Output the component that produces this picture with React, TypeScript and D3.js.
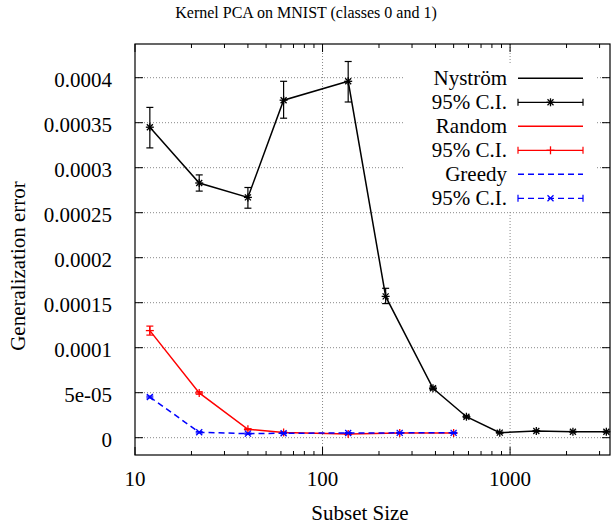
import React from "react";
import * as d3 from "d3";

const title = "Kernel PCA on MNIST (classes 0 and 1)";
const xLabel = "Subset Size";
const yLabel = "Generalization error";

const nystromX = [12, 22, 40, 62, 137, 217, 388, 585, 881, 1380, 2163, 3260];
const nystromY = [0.000345, 0.000283, 0.000267, 0.000375, 0.000396, 0.000157, 0.0000549, 0.0000233, 0.0000056, 0.0000074, 0.0000067, 0.0000067];
const nystromLo = [0.000322, 0.000274, 0.000255, 0.000355, 0.000373, 0.000149, 0.0000535, 0.0000222, 0.000005, 0.0000068, 0.0000062, 0.0000062];
const nystromHi = [0.000367, 0.000292, 0.000278, 0.000396, 0.000418, 0.000166, 0.0000563, 0.0000244, 0.0000062, 0.000008, 0.0000072, 0.0000072];

const randomX = [12, 22, 40, 62, 137, 258, 500];
const randomY = [0.000119, 0.0000497, 0.0000093, 0.0000058, 0.000004, 0.0000052, 0.0000052];
const randomLo = [0.000114, 0.0000483, 0.0000086, 0.0000053, 0.0000035, 0.0000047, 0.0000047];
const randomHi = [0.000124, 0.0000511, 0.00001, 0.0000063, 0.0000045, 0.0000057, 0.0000057];

const greedyX = [12, 22, 40, 62, 137, 258, 500];
const greedyY = [0.0000452, 0.000006, 0.0000045, 0.000005, 0.0000052, 0.0000054, 0.0000054];
const greedyLo = [0.0000442, 0.0000053, 0.0000039, 0.0000045, 0.0000047, 0.0000049, 0.0000049];
const greedyHi = [0.0000462, 0.0000067, 0.0000051, 0.0000055, 0.0000057, 0.0000059, 0.0000059];

const yTickValues = [0, 0.00005, 0.0001, 0.00015, 0.0002, 0.00025, 0.0003, 0.00035, 0.0004];
const yTickLabels = ["0", "5e-05", "0.0001", "0.00015", "0.0002", "0.00025", "0.0003", "0.00035", "0.0004"];
const xTickValues = [10, 100, 1000];
const xTickLabels = ["10", "100", "1000"];
const xMinorTicks = [20, 30, 40, 50, 60, 70, 80, 90, 200, 300, 400, 500, 600, 700, 800, 900, 2000, 3000];

const legendLabels = ["Nyström", "95% C.I.", "Random", "95% C.I.", "Greedy", "95% C.I."];

const FONT = "'Liberation Serif'";
const L = 135, R = 610, T = 44, B = 455;

const x = d3.scaleLog().domain([10, Math.pow(10, 3 + (R - 510) / 187.7)]).range([L, R]);
const yPerUnit = (437.7 - 77.7) / 0.0004;
const y = d3.scaleLinear().domain([-(B - 437.7) / yPerUnit, (437.7 - T) / yPerUnit]).range([B, T]);

type Series = { xs: number[]; ys: number[]; lo: number[]; hi: number[]; color: string; dash?: string; marker: string };

const series: Series[] = [
  { xs: nystromX, ys: nystromY, lo: nystromLo, hi: nystromHi, color: "#000000", marker: "star" },
  { xs: randomX, ys: randomY, lo: randomLo, hi: randomHi, color: "#ff0000", marker: "plus" },
  { xs: greedyX, ys: greedyY, lo: greedyLo, hi: greedyHi, color: "#0000ff", dash: "6,4", marker: "cross" },
];

function Marker({ cx, cy, kind, color }: { cx: number; cy: number; kind: string; color: string }) {
  const s = 4;
  const c = 3;
  const parts: any[] = [];
  if (kind === "plus" || kind === "star") {
    parts.push(<line key="h" x1={cx - s} x2={cx + s} y1={cy} y2={cy} />);
    parts.push(<line key="v" x1={cx} x2={cx} y1={cy - s} y2={cy + s} />);
  }
  if (kind === "cross" || kind === "star") {
    parts.push(<line key="a" x1={cx - c} x2={cx + c} y1={cy - c} y2={cy + c} />);
    parts.push(<line key="b" x1={cx - c} x2={cx + c} y1={cy + c} y2={cy - c} />);
  }
  return <g stroke={color} strokeWidth={1.3} fill="none">{parts}</g>;
}

export default function App() {
  const lineGen = d3.line<[number, number]>().x((d) => x(d[0])).y((d) => y(d[1]));
  const gridStyle = { stroke: "#888", strokeWidth: 1, strokeDasharray: "1,2" };

  const legendTextX = 507;
  const sampleX1 = 518, sampleX2 = 583;
  const legendRowY = (i: number) => 78.3 + i * 24;
  const FS = 21;
  const txt = { fontFamily: FONT, fontSize: FS, fill: "#000" } as const;

  return (
    <div style={{ position: "absolute", left: 0, top: 0 }}>
      <svg width={612} height={524} style={{ display: "block", background: "#fff" }}>
        <rect x={0} y={0} width={612} height={524} fill="#fff" />
        {yTickValues.map((v, i) => (
          <line key={"gy" + i} x1={L} x2={R} y1={y(v)} y2={y(v)} style={gridStyle} />
        ))}
        {xTickValues.slice(1).map((v, i) => (
          <line key={"gx" + i} x1={x(v)} x2={x(v)} y1={T} y2={B} style={gridStyle} />
        ))}
        <g stroke="#000" strokeWidth={1}>
          {yTickValues.map((v, i) => (
            <g key={"ty" + i}>
              <line x1={L} x2={L + 8} y1={y(v)} y2={y(v)} />
              <line x1={R} x2={R - 8} y1={y(v)} y2={y(v)} />
            </g>
          ))}
          {xTickValues.map((v, i) => (
            <g key={"tx" + i}>
              <line x1={x(v)} x2={x(v)} y1={B} y2={B - 8} />
              <line x1={x(v)} x2={x(v)} y1={T} y2={T + 8} />
            </g>
          ))}
          {xMinorTicks.map((v, i) => (
            <g key={"tm" + i}>
              <line x1={x(v)} x2={x(v)} y1={B} y2={B - 4} />
              <line x1={x(v)} x2={x(v)} y1={T} y2={T + 4} />
            </g>
          ))}
        </g>
        {yTickValues.map((v, i) => (
          <text key={"ly" + i} x={112} y={y(v) + 9} textAnchor="end" style={txt}>{yTickLabels[i]}</text>
        ))}
        {xTickValues.map((v, i) => (
          <text key={"lx" + i} x={x(v)} y={486} textAnchor="middle" style={txt}>{xTickLabels[i]}</text>
        ))}
        <text x={306} y={18} textAnchor="middle" style={{ fontFamily: FONT, fontSize: 16, fill: "#000" }}>{title}</text>
        <text x={360} y={520} textAnchor="middle" style={txt}>{xLabel}</text>
        <text transform={`translate(25,266) rotate(-90)`} textAnchor="middle" style={txt}>{yLabel}</text>

        {series.map((s, si) => {
          const pts = s.xs.map((xv, i) => [xv, s.ys[i]] as [number, number]);
          return (
            <g key={"s" + si}>
              <path d={lineGen(pts) || ""} fill="none" stroke={s.color} strokeWidth={1.5} strokeDasharray={s.dash} />
              {s.xs.map((xv, i) => {
                const cx = x(xv);
                return (
                  <g key={i} stroke={s.color} strokeWidth={1.2}>
                    <line x1={cx} x2={cx} y1={y(s.lo[i])} y2={y(s.hi[i])} />
                    <line x1={cx - 3.5} x2={cx + 3.5} y1={y(s.lo[i])} y2={y(s.lo[i])} />
                    <line x1={cx - 3.5} x2={cx + 3.5} y1={y(s.hi[i])} y2={y(s.hi[i])} />
                  </g>
                );
              })}
              {s.xs.map((xv, i) => (
                <Marker key={"m" + i} cx={x(xv)} cy={y(s.ys[i])} kind={s.marker} color={s.color} />
              ))}
            </g>
          );
        })}

        <rect x={403} y={64} width={194} height={147} fill="#fff" />
        {legendLabels.map((lab, i) => (
          <text key={"lg" + i} x={legendTextX} y={legendRowY(i) + 7} textAnchor="end" style={txt}>{lab}</text>
        ))}
        {series.map((s, si) => {
          const ly = legendRowY(si * 2);
          const ey = legendRowY(si * 2 + 1);
          const mx = (sampleX1 + sampleX2) / 2;
          return (
            <g key={"ls" + si}>
              <line x1={sampleX1} x2={sampleX2} y1={ly} y2={ly} stroke={s.color} strokeWidth={1.5} strokeDasharray={s.dash} />
              <g stroke={s.color} strokeWidth={1.2}>
                <line x1={sampleX1} x2={sampleX2} y1={ey} y2={ey} strokeDasharray={s.dash} />
                <line x1={sampleX1} x2={sampleX1} y1={ey - 3.5} y2={ey + 3.5} />
                <line x1={sampleX2} x2={sampleX2} y1={ey - 3.5} y2={ey + 3.5} />
              </g>
              <Marker cx={mx} cy={ey} kind={s.marker} color={s.color} />
            </g>
          );
        })}

        <rect x={L} y={T} width={R - L} height={B - T} fill="none" stroke="#000" strokeWidth={1.2} />
      </svg>
    </div>
  );
}
